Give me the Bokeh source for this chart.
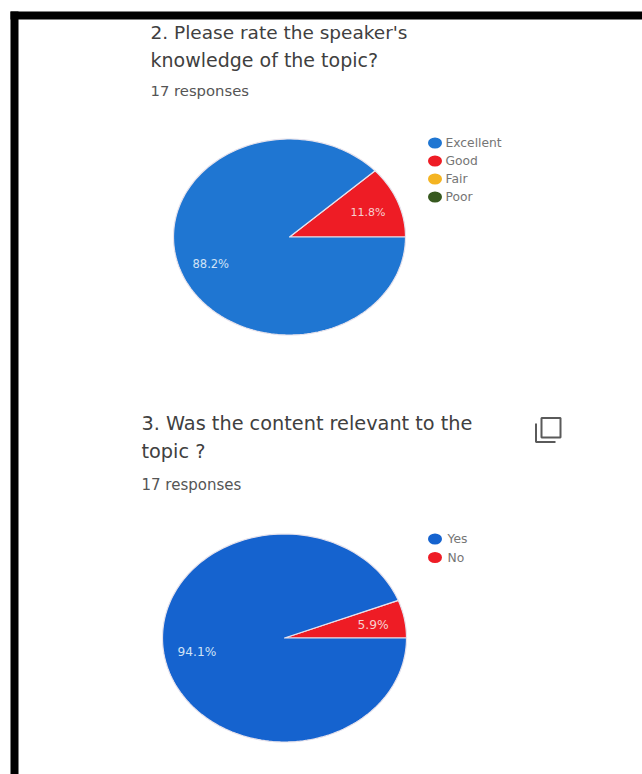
import math
from bokeh.plotting import figure
from bokeh.models import Range1d
from bokeh.embed import file_html
from bokeh.resources import INLINE
from bokeh.core.properties import value

q1_title = ["2. Please rate the speaker's", "knowledge of the topic?"]
q1_responses = "17 responses"
q1_labels = ["Excellent", "Good", "Fair", "Poor"]
q1_values = [88.2, 11.8, 0.0, 0.0]
q1_colors = ["#1f76d2", "#ee1c25", "#f4b422", "#37591f"]
q1_text = ["88.2%", "11.8%"]

q2_title = ["3. Was the content relevant to the", "topic ?"]
q2_responses = "17 responses"
q2_labels = ["Yes", "No"]
q2_values = [94.1, 5.9]
q2_colors = ["#1563cf", "#ee1c25"]
q2_text = ["94.1%", "5.9%"]

FONT = "DejaVu Sans"
W, H = 642, 774

p = figure(width=W, height=H, output_backend="svg", toolbar_location=None,
           x_range=Range1d(0, W), y_range=Range1d(H, 0),
           min_border=0, outline_line_color=None)
p.xaxis.visible = False
p.yaxis.visible = False
p.grid.visible = False
p.background_fill_color = "white"
p.border_fill_color = "white"

# page frame
p.quad(left=[10, 10], right=[18, 642], top=[11, 11], bottom=[774, 19],
       fill_color="#000000", line_color=None)


def pie(values, colors, cx, cy, rx, ry):
    """Slices run counter-clockwise from 3 o'clock, last value first."""
    start = 0.0
    for v, c in list(zip(values, colors))[::-1]:
        if v <= 0:
            continue
        end = start + v / 100 * 2 * math.pi
        n = max(2, int(v * 2))
        ts = [start + (end - start) * i / n for i in range(n + 1)]
        xs = [cx] + [cx + rx * math.cos(t) for t in ts]
        ys = [cy] + [cy - ry * math.sin(t) for t in ts]
        p.patch(xs, ys, fill_color=c, line_color="#e6e2ec", line_width=1.2, line_join="round")
        start = end


def text(x, y, s, size, color):
    p.text([x], [y], text=[s], text_font=value(FONT), text_font_size=size,
           text_color=color, text_baseline="middle", text_align="left")


def legend(labels, colors, x, y0, step, tx):
    for i, (l, c) in enumerate(zip(labels, colors)):
        p.ellipse([x], [y0 + i * step], width=14, height=11, fill_color=c, line_color=None)
        text(tx, y0 + i * step, l, "12.3px", "#757575")


# question 2
text(150, 32, q1_title[0], "18.5px", "#404040")
text(150, 59, q1_title[1], "19px", "#404040")
text(150, 90, q1_responses, "14.8px", "#555555")
pie(q1_values, q1_colors, 289, 236.5, 116, 98)
text(350, 212, q1_text[1], "11px", "#f6d0d0")
text(192, 263, q1_text[0], "11.5px", "#d0e2f6")
legend(q1_labels, q1_colors, 434.5, 142.5, 18, 445)

# question 3
text(141, 423, q2_title[0], "19.3px", "#404040")
text(141, 451, q2_title[1], "19.3px", "#404040")
text(141, 484, q2_responses, "15px", "#555555")
pie(q2_values, q2_colors, 284, 637.5, 122, 104)
text(357, 624, q2_text[1], "12.3px", "#f6d0d0")
text(177, 651, q2_text[0], "12.2px", "#d0e2f6")
legend(q2_labels, q2_colors, 434.5, 538.5, 18.5, 447)

# copy icon
p.quad(left=[541], right=[560], top=[417.5], bottom=[437], fill_color=None,
       line_color="#5a5a5a", line_width=2)
p.line([535.5, 535.5, 555], [423, 441.5, 441.5], line_color="#5a5a5a", line_width=2)

open("out.html", "w").write(file_html(p, INLINE))
